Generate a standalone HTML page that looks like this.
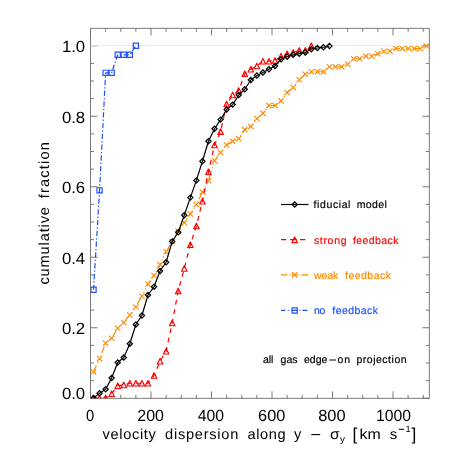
<!DOCTYPE html>
<html><head><meta charset="utf-8"><title>plot</title>
<style>
html,body{margin:0;padding:0;background:#fff;}
body{width:456px;height:456px;overflow:hidden;}
svg{display:block;opacity:0.999;will-change:transform;}
svg text{font-family:"Liberation Sans",sans-serif;text-rendering:geometricPrecision;}
</style></head><body>
<svg width="456" height="456" viewBox="0 0 456 456">
<defs><clipPath id="c"><rect x="90.5" y="28.35" width="338.85" height="370.0"/></clipPath></defs>
<rect width="456" height="456" fill="#fff"/>
<path d="M90.5 28.35H429.35V398.35H90.5ZM90.50 398.35v-7M90.50 28.35v7M105.62 398.35v-3.5M105.62 28.35v3.5M120.75 398.35v-3.5M120.75 28.35v3.5M135.88 398.35v-3.5M135.88 28.35v3.5M151.00 398.35v-7M151.00 28.35v7M166.12 398.35v-3.5M166.12 28.35v3.5M181.25 398.35v-3.5M181.25 28.35v3.5M196.38 398.35v-3.5M196.38 28.35v3.5M211.50 398.35v-7M211.50 28.35v7M226.62 398.35v-3.5M226.62 28.35v3.5M241.75 398.35v-3.5M241.75 28.35v3.5M256.88 398.35v-3.5M256.88 28.35v3.5M272.00 398.35v-7M272.00 28.35v7M287.12 398.35v-3.5M287.12 28.35v3.5M302.25 398.35v-3.5M302.25 28.35v3.5M317.38 398.35v-3.5M317.38 28.35v3.5M332.50 398.35v-7M332.50 28.35v7M347.62 398.35v-3.5M347.62 28.35v3.5M362.75 398.35v-3.5M362.75 28.35v3.5M377.88 398.35v-3.5M377.88 28.35v3.5M393.00 398.35v-7M393.00 28.35v7M408.12 398.35v-3.5M408.12 28.35v3.5M423.25 398.35v-3.5M423.25 28.35v3.5M90.5 398.25h7M429.35 398.25h-7M90.5 380.62h3.5M429.35 380.62h-3.5M90.5 363.00h3.5M429.35 363.00h-3.5M90.5 345.38h3.5M429.35 345.38h-3.5M90.5 327.75h7M429.35 327.75h-7M90.5 310.12h3.5M429.35 310.12h-3.5M90.5 292.50h3.5M429.35 292.50h-3.5M90.5 274.88h3.5M429.35 274.88h-3.5M90.5 257.25h7M429.35 257.25h-7M90.5 239.62h3.5M429.35 239.62h-3.5M90.5 222.00h3.5M429.35 222.00h-3.5M90.5 204.37h3.5M429.35 204.37h-3.5M90.5 186.75h7M429.35 186.75h-7M90.5 169.12h3.5M429.35 169.12h-3.5M90.5 151.50h3.5M429.35 151.50h-3.5M90.5 133.88h3.5M429.35 133.88h-3.5M90.5 116.25h7M429.35 116.25h-7M90.5 98.62h3.5M429.35 98.62h-3.5M90.5 81.00h3.5M429.35 81.00h-3.5M90.5 63.38h3.5M429.35 63.38h-3.5M90.5 45.75h7M429.35 45.75h-7" fill="none" stroke="#6c6c6c" stroke-width="0.9"/>
<line x1="90.50" y1="45.75" x2="393.00" y2="45.75" stroke="#e6e6e6" stroke-width="1"/>
<g clip-path="url(#c)"><polyline points="93.53,289.79 99.58,190.37 105.62,72.87 111.67,72.87 117.72,54.79 123.78,54.79 129.82,54.79 135.88,45.75" fill="none" stroke="#1e50ff" stroke-width="1.2" stroke-dasharray="5.3 2.1 1.3 2.1" stroke-dashoffset="0.20" stroke-linejoin="round"/><path d="M90.93 287.19H96.12V292.39H90.93Z" fill="none" stroke="#1e50ff" stroke-width="1.2"/><path d="M96.98 187.77H102.17V192.97H96.98Z" fill="none" stroke="#1e50ff" stroke-width="1.2"/><path d="M103.03 70.27H108.22V75.47H103.03Z" fill="none" stroke="#1e50ff" stroke-width="1.2"/><path d="M109.08 70.27H114.27V75.47H109.08Z" fill="none" stroke="#1e50ff" stroke-width="1.2"/><path d="M115.12 52.19H120.32V57.39H115.12Z" fill="none" stroke="#1e50ff" stroke-width="1.2"/><path d="M121.18 52.19H126.38V57.39H121.18Z" fill="none" stroke="#1e50ff" stroke-width="1.2"/><path d="M127.22 52.19H132.42V57.39H127.22Z" fill="none" stroke="#1e50ff" stroke-width="1.2"/><path d="M133.28 43.15H138.47V48.35H133.28Z" fill="none" stroke="#1e50ff" stroke-width="1.2"/><polyline points="93.53,371.75 99.58,358.75 105.62,343.25 111.67,338.25 117.72,328.25 123.78,322.50 129.82,315.00 135.88,307.00 141.93,296.25 147.97,284.00 154.03,275.50 160.07,264.75 166.12,251.75 172.18,241.50 178.22,231.50 184.27,222.75 190.32,214.00 196.38,204.50 202.43,192.00 208.47,180.75 214.52,160.75 220.57,152.50 226.62,145.00 232.67,141.25 238.72,138.60 244.78,129.60 250.82,126.50 256.88,118.60 262.92,113.40 268.98,105.50 275.02,105.50 281.07,100.90 287.12,92.50 293.17,87.50 299.23,79.75 305.27,74.25 311.32,71.75 317.38,71.75 323.42,71.75 329.48,66.75 335.52,66.75 341.57,66.75 347.62,64.25 353.68,58.75 359.72,58.75 365.77,56.25 371.82,56.25 377.88,53.75 383.93,51.25 389.97,51.25 396.02,48.50 402.07,48.50 408.12,48.50 414.18,48.50 420.22,48.50 426.27,46.00" fill="none" stroke="#ff8c00" stroke-width="1.2" stroke-dasharray="6.8 2.5 1.2 2.5 1.2 2.5 1.2 2.5" stroke-dashoffset="0.00" stroke-linejoin="round"/><path d="M90.83 369.05L96.23 374.45M90.83 374.45L96.23 369.05" fill="none" stroke="#ff8c00" stroke-width="1.2"/><path d="M96.88 356.05L102.28 361.45M96.88 361.45L102.28 356.05" fill="none" stroke="#ff8c00" stroke-width="1.2"/><path d="M102.92 340.55L108.33 345.95M102.92 345.95L108.33 340.55" fill="none" stroke="#ff8c00" stroke-width="1.2"/><path d="M108.97 335.55L114.38 340.95M108.97 340.95L114.38 335.55" fill="none" stroke="#ff8c00" stroke-width="1.2"/><path d="M115.02 325.55L120.42 330.95M115.02 330.95L120.42 325.55" fill="none" stroke="#ff8c00" stroke-width="1.2"/><path d="M121.08 319.80L126.48 325.20M121.08 325.20L126.48 319.80" fill="none" stroke="#ff8c00" stroke-width="1.2"/><path d="M127.12 312.30L132.52 317.70M127.12 317.70L132.52 312.30" fill="none" stroke="#ff8c00" stroke-width="1.2"/><path d="M133.18 304.30L138.57 309.70M133.18 309.70L138.57 304.30" fill="none" stroke="#ff8c00" stroke-width="1.2"/><path d="M139.23 293.55L144.62 298.95M139.23 298.95L144.62 293.55" fill="none" stroke="#ff8c00" stroke-width="1.2"/><path d="M145.28 281.30L150.67 286.70M145.28 286.70L150.67 281.30" fill="none" stroke="#ff8c00" stroke-width="1.2"/><path d="M151.33 272.80L156.72 278.20M151.33 278.20L156.72 272.80" fill="none" stroke="#ff8c00" stroke-width="1.2"/><path d="M157.38 262.05L162.77 267.45M157.38 267.45L162.77 262.05" fill="none" stroke="#ff8c00" stroke-width="1.2"/><path d="M163.43 249.05L168.82 254.45M163.43 254.45L168.82 249.05" fill="none" stroke="#ff8c00" stroke-width="1.2"/><path d="M169.48 238.80L174.88 244.20M169.48 244.20L174.88 238.80" fill="none" stroke="#ff8c00" stroke-width="1.2"/><path d="M175.53 228.80L180.92 234.20M175.53 234.20L180.92 228.80" fill="none" stroke="#ff8c00" stroke-width="1.2"/><path d="M181.57 220.05L186.97 225.45M181.57 225.45L186.97 220.05" fill="none" stroke="#ff8c00" stroke-width="1.2"/><path d="M187.62 211.30L193.02 216.70M187.62 216.70L193.02 211.30" fill="none" stroke="#ff8c00" stroke-width="1.2"/><path d="M193.68 201.80L199.07 207.20M193.68 207.20L199.07 201.80" fill="none" stroke="#ff8c00" stroke-width="1.2"/><path d="M199.73 189.30L205.12 194.70M199.73 194.70L205.12 189.30" fill="none" stroke="#ff8c00" stroke-width="1.2"/><path d="M205.78 178.05L211.17 183.45M205.78 183.45L211.17 178.05" fill="none" stroke="#ff8c00" stroke-width="1.2"/><path d="M211.82 158.05L217.22 163.45M211.82 163.45L217.22 158.05" fill="none" stroke="#ff8c00" stroke-width="1.2"/><path d="M217.88 149.80L223.27 155.20M217.88 155.20L223.27 149.80" fill="none" stroke="#ff8c00" stroke-width="1.2"/><path d="M223.93 142.30L229.32 147.70M223.93 147.70L229.32 142.30" fill="none" stroke="#ff8c00" stroke-width="1.2"/><path d="M229.97 138.55L235.37 143.95M229.97 143.95L235.37 138.55" fill="none" stroke="#ff8c00" stroke-width="1.2"/><path d="M236.03 135.90L241.42 141.30M236.03 141.30L241.42 135.90" fill="none" stroke="#ff8c00" stroke-width="1.2"/><path d="M242.08 126.90L247.47 132.30M242.08 132.30L247.47 126.90" fill="none" stroke="#ff8c00" stroke-width="1.2"/><path d="M248.12 123.80L253.52 129.20M248.12 129.20L253.52 123.80" fill="none" stroke="#ff8c00" stroke-width="1.2"/><path d="M254.18 115.90L259.57 121.30M254.18 121.30L259.57 115.90" fill="none" stroke="#ff8c00" stroke-width="1.2"/><path d="M260.22 110.70L265.62 116.10M260.22 116.10L265.62 110.70" fill="none" stroke="#ff8c00" stroke-width="1.2"/><path d="M266.28 102.80L271.68 108.20M266.28 108.20L271.68 102.80" fill="none" stroke="#ff8c00" stroke-width="1.2"/><path d="M272.32 102.80L277.72 108.20M272.32 108.20L277.72 102.80" fill="none" stroke="#ff8c00" stroke-width="1.2"/><path d="M278.38 98.20L283.77 103.60M278.38 103.60L283.77 98.20" fill="none" stroke="#ff8c00" stroke-width="1.2"/><path d="M284.43 89.80L289.82 95.20M284.43 95.20L289.82 89.80" fill="none" stroke="#ff8c00" stroke-width="1.2"/><path d="M290.47 84.80L295.87 90.20M290.47 90.20L295.87 84.80" fill="none" stroke="#ff8c00" stroke-width="1.2"/><path d="M296.53 77.05L301.93 82.45M296.53 82.45L301.93 77.05" fill="none" stroke="#ff8c00" stroke-width="1.2"/><path d="M302.57 71.55L307.97 76.95M302.57 76.95L307.97 71.55" fill="none" stroke="#ff8c00" stroke-width="1.2"/><path d="M308.62 69.05L314.02 74.45M308.62 74.45L314.02 69.05" fill="none" stroke="#ff8c00" stroke-width="1.2"/><path d="M314.68 69.05L320.07 74.45M314.68 74.45L320.07 69.05" fill="none" stroke="#ff8c00" stroke-width="1.2"/><path d="M320.72 69.05L326.12 74.45M320.72 74.45L326.12 69.05" fill="none" stroke="#ff8c00" stroke-width="1.2"/><path d="M326.78 64.05L332.18 69.45M326.78 69.45L332.18 64.05" fill="none" stroke="#ff8c00" stroke-width="1.2"/><path d="M332.82 64.05L338.22 69.45M332.82 69.45L338.22 64.05" fill="none" stroke="#ff8c00" stroke-width="1.2"/><path d="M338.88 64.05L344.27 69.45M338.88 69.45L344.27 64.05" fill="none" stroke="#ff8c00" stroke-width="1.2"/><path d="M344.93 61.55L350.32 66.95M344.93 66.95L350.32 61.55" fill="none" stroke="#ff8c00" stroke-width="1.2"/><path d="M350.98 56.05L356.38 61.45M350.98 61.45L356.38 56.05" fill="none" stroke="#ff8c00" stroke-width="1.2"/><path d="M357.02 56.05L362.42 61.45M357.02 61.45L362.42 56.05" fill="none" stroke="#ff8c00" stroke-width="1.2"/><path d="M363.07 53.55L368.47 58.95M363.07 58.95L368.47 53.55" fill="none" stroke="#ff8c00" stroke-width="1.2"/><path d="M369.12 53.55L374.52 58.95M369.12 58.95L374.52 53.55" fill="none" stroke="#ff8c00" stroke-width="1.2"/><path d="M375.18 51.05L380.57 56.45M375.18 56.45L380.57 51.05" fill="none" stroke="#ff8c00" stroke-width="1.2"/><path d="M381.23 48.55L386.62 53.95M381.23 53.95L386.62 48.55" fill="none" stroke="#ff8c00" stroke-width="1.2"/><path d="M387.27 48.55L392.67 53.95M387.27 53.95L392.67 48.55" fill="none" stroke="#ff8c00" stroke-width="1.2"/><path d="M393.32 45.80L398.72 51.20M393.32 51.20L398.72 45.80" fill="none" stroke="#ff8c00" stroke-width="1.2"/><path d="M399.38 45.80L404.77 51.20M399.38 51.20L404.77 45.80" fill="none" stroke="#ff8c00" stroke-width="1.2"/><path d="M405.43 45.80L410.82 51.20M405.43 51.20L410.82 45.80" fill="none" stroke="#ff8c00" stroke-width="1.2"/><path d="M411.48 45.80L416.88 51.20M411.48 51.20L416.88 45.80" fill="none" stroke="#ff8c00" stroke-width="1.2"/><path d="M417.52 45.80L422.92 51.20M417.52 51.20L422.92 45.80" fill="none" stroke="#ff8c00" stroke-width="1.2"/><path d="M423.57 43.30L428.97 48.70M423.57 48.70L428.97 43.30" fill="none" stroke="#ff8c00" stroke-width="1.2"/><polyline points="93.53,398.25 99.58,398.25 105.62,398.00 111.67,393.75 117.72,385.75 123.78,385.00 129.82,383.25 135.88,383.25 141.93,383.25 147.97,383.25 154.03,375.50 160.07,361.25 166.12,351.25 172.18,323.00 178.22,291.00 184.27,268.50 190.32,244.75 196.38,226.00 202.43,201.25 208.47,171.75 214.52,145.00 220.57,131.60 226.62,104.00 232.67,95.00 238.72,90.50 244.78,73.75 250.82,69.25 256.88,66.00 262.92,61.25 268.98,61.25 275.02,60.50 281.07,56.25 287.12,53.75 293.17,52.50 299.23,50.50 305.27,50.50 311.32,45.75" fill="none" stroke="#ff0000" stroke-width="1.2" stroke-dasharray="4.9 4.73" stroke-dashoffset="9.52" stroke-linejoin="round"/><path d="M90.78 401.00L93.53 395.50L96.28 401.00Z" fill="none" stroke="#ff0000" stroke-width="1.2" stroke-linejoin="round"/><path d="M96.83 401.00L99.58 395.50L102.33 401.00Z" fill="none" stroke="#ff0000" stroke-width="1.2" stroke-linejoin="round"/><path d="M102.88 400.75L105.62 395.25L108.38 400.75Z" fill="none" stroke="#ff0000" stroke-width="1.2" stroke-linejoin="round"/><path d="M108.92 396.50L111.67 391.00L114.42 396.50Z" fill="none" stroke="#ff0000" stroke-width="1.2" stroke-linejoin="round"/><path d="M114.97 388.50L117.72 383.00L120.47 388.50Z" fill="none" stroke="#ff0000" stroke-width="1.2" stroke-linejoin="round"/><path d="M121.03 387.75L123.78 382.25L126.53 387.75Z" fill="none" stroke="#ff0000" stroke-width="1.2" stroke-linejoin="round"/><path d="M127.07 386.00L129.82 380.50L132.57 386.00Z" fill="none" stroke="#ff0000" stroke-width="1.2" stroke-linejoin="round"/><path d="M133.12 386.00L135.88 380.50L138.62 386.00Z" fill="none" stroke="#ff0000" stroke-width="1.2" stroke-linejoin="round"/><path d="M139.18 386.00L141.93 380.50L144.68 386.00Z" fill="none" stroke="#ff0000" stroke-width="1.2" stroke-linejoin="round"/><path d="M145.22 386.00L147.97 380.50L150.72 386.00Z" fill="none" stroke="#ff0000" stroke-width="1.2" stroke-linejoin="round"/><path d="M151.28 378.25L154.03 372.75L156.78 378.25Z" fill="none" stroke="#ff0000" stroke-width="1.2" stroke-linejoin="round"/><path d="M157.32 364.00L160.07 358.50L162.82 364.00Z" fill="none" stroke="#ff0000" stroke-width="1.2" stroke-linejoin="round"/><path d="M163.38 354.00L166.12 348.50L168.88 354.00Z" fill="none" stroke="#ff0000" stroke-width="1.2" stroke-linejoin="round"/><path d="M169.43 325.75L172.18 320.25L174.93 325.75Z" fill="none" stroke="#ff0000" stroke-width="1.2" stroke-linejoin="round"/><path d="M175.47 293.75L178.22 288.25L180.97 293.75Z" fill="none" stroke="#ff0000" stroke-width="1.2" stroke-linejoin="round"/><path d="M181.52 271.25L184.27 265.75L187.02 271.25Z" fill="none" stroke="#ff0000" stroke-width="1.2" stroke-linejoin="round"/><path d="M187.57 247.50L190.32 242.00L193.07 247.50Z" fill="none" stroke="#ff0000" stroke-width="1.2" stroke-linejoin="round"/><path d="M193.62 228.75L196.38 223.25L199.12 228.75Z" fill="none" stroke="#ff0000" stroke-width="1.2" stroke-linejoin="round"/><path d="M199.68 204.00L202.43 198.50L205.18 204.00Z" fill="none" stroke="#ff0000" stroke-width="1.2" stroke-linejoin="round"/><path d="M205.72 174.50L208.47 169.00L211.22 174.50Z" fill="none" stroke="#ff0000" stroke-width="1.2" stroke-linejoin="round"/><path d="M211.77 147.75L214.52 142.25L217.27 147.75Z" fill="none" stroke="#ff0000" stroke-width="1.2" stroke-linejoin="round"/><path d="M217.82 134.35L220.57 128.85L223.32 134.35Z" fill="none" stroke="#ff0000" stroke-width="1.2" stroke-linejoin="round"/><path d="M223.88 106.75L226.62 101.25L229.38 106.75Z" fill="none" stroke="#ff0000" stroke-width="1.2" stroke-linejoin="round"/><path d="M229.92 97.75L232.67 92.25L235.42 97.75Z" fill="none" stroke="#ff0000" stroke-width="1.2" stroke-linejoin="round"/><path d="M235.97 93.25L238.72 87.75L241.47 93.25Z" fill="none" stroke="#ff0000" stroke-width="1.2" stroke-linejoin="round"/><path d="M242.03 76.50L244.78 71.00L247.53 76.50Z" fill="none" stroke="#ff0000" stroke-width="1.2" stroke-linejoin="round"/><path d="M248.07 72.00L250.82 66.50L253.57 72.00Z" fill="none" stroke="#ff0000" stroke-width="1.2" stroke-linejoin="round"/><path d="M254.12 68.75L256.88 63.25L259.62 68.75Z" fill="none" stroke="#ff0000" stroke-width="1.2" stroke-linejoin="round"/><path d="M260.17 64.00L262.92 58.50L265.67 64.00Z" fill="none" stroke="#ff0000" stroke-width="1.2" stroke-linejoin="round"/><path d="M266.23 64.00L268.98 58.50L271.73 64.00Z" fill="none" stroke="#ff0000" stroke-width="1.2" stroke-linejoin="round"/><path d="M272.27 63.25L275.02 57.75L277.77 63.25Z" fill="none" stroke="#ff0000" stroke-width="1.2" stroke-linejoin="round"/><path d="M278.32 59.00L281.07 53.50L283.82 59.00Z" fill="none" stroke="#ff0000" stroke-width="1.2" stroke-linejoin="round"/><path d="M284.38 56.50L287.12 51.00L289.88 56.50Z" fill="none" stroke="#ff0000" stroke-width="1.2" stroke-linejoin="round"/><path d="M290.42 55.25L293.17 49.75L295.92 55.25Z" fill="none" stroke="#ff0000" stroke-width="1.2" stroke-linejoin="round"/><path d="M296.48 53.25L299.23 47.75L301.98 53.25Z" fill="none" stroke="#ff0000" stroke-width="1.2" stroke-linejoin="round"/><path d="M302.52 53.25L305.27 47.75L308.02 53.25Z" fill="none" stroke="#ff0000" stroke-width="1.2" stroke-linejoin="round"/><path d="M308.57 48.50L311.32 43.00L314.07 48.50Z" fill="none" stroke="#ff0000" stroke-width="1.2" stroke-linejoin="round"/><polyline points="93.53,398.00 99.58,393.25 105.62,389.25 111.67,378.00 117.72,362.50 123.78,357.50 129.82,343.75 135.88,324.50 141.93,315.50 147.97,295.00 154.03,286.75 160.07,271.00 166.12,262.25 172.18,241.50 178.22,232.25 184.27,215.25 190.32,197.60 196.38,180.40 202.43,161.25 208.47,141.25 214.52,128.75 220.57,119.60 226.62,109.60 232.67,104.60 238.72,95.00 244.78,89.25 250.82,80.00 256.88,75.50 262.92,72.50 268.98,69.25 275.02,66.00 281.07,59.25 287.12,56.75 293.17,54.75 299.23,53.75 305.27,52.50 311.32,49.25 317.38,48.00 323.42,47.25 329.48,46.00" fill="none" stroke="#000" stroke-width="1.2" stroke-linejoin="round"/><path d="M90.93 398.00L93.53 395.40L96.12 398.00L93.53 400.60Z" fill="none" stroke="#000" stroke-width="1.2"/><path d="M96.98 393.25L99.58 390.65L102.17 393.25L99.58 395.85Z" fill="none" stroke="#000" stroke-width="1.2"/><path d="M103.03 389.25L105.62 386.65L108.22 389.25L105.62 391.85Z" fill="none" stroke="#000" stroke-width="1.2"/><path d="M109.08 378.00L111.67 375.40L114.27 378.00L111.67 380.60Z" fill="none" stroke="#000" stroke-width="1.2"/><path d="M115.12 362.50L117.72 359.90L120.32 362.50L117.72 365.10Z" fill="none" stroke="#000" stroke-width="1.2"/><path d="M121.18 357.50L123.78 354.90L126.38 357.50L123.78 360.10Z" fill="none" stroke="#000" stroke-width="1.2"/><path d="M127.22 343.75L129.82 341.15L132.42 343.75L129.82 346.35Z" fill="none" stroke="#000" stroke-width="1.2"/><path d="M133.28 324.50L135.88 321.90L138.47 324.50L135.88 327.10Z" fill="none" stroke="#000" stroke-width="1.2"/><path d="M139.33 315.50L141.93 312.90L144.53 315.50L141.93 318.10Z" fill="none" stroke="#000" stroke-width="1.2"/><path d="M145.38 295.00L147.97 292.40L150.57 295.00L147.97 297.60Z" fill="none" stroke="#000" stroke-width="1.2"/><path d="M151.43 286.75L154.03 284.15L156.62 286.75L154.03 289.35Z" fill="none" stroke="#000" stroke-width="1.2"/><path d="M157.47 271.00L160.07 268.40L162.67 271.00L160.07 273.60Z" fill="none" stroke="#000" stroke-width="1.2"/><path d="M163.53 262.25L166.12 259.65L168.72 262.25L166.12 264.85Z" fill="none" stroke="#000" stroke-width="1.2"/><path d="M169.58 241.50L172.18 238.90L174.78 241.50L172.18 244.10Z" fill="none" stroke="#000" stroke-width="1.2"/><path d="M175.62 232.25L178.22 229.65L180.82 232.25L178.22 234.85Z" fill="none" stroke="#000" stroke-width="1.2"/><path d="M181.67 215.25L184.27 212.65L186.87 215.25L184.27 217.85Z" fill="none" stroke="#000" stroke-width="1.2"/><path d="M187.72 197.60L190.32 195.00L192.92 197.60L190.32 200.20Z" fill="none" stroke="#000" stroke-width="1.2"/><path d="M193.78 180.40L196.38 177.80L198.97 180.40L196.38 183.00Z" fill="none" stroke="#000" stroke-width="1.2"/><path d="M199.83 161.25L202.43 158.65L205.03 161.25L202.43 163.85Z" fill="none" stroke="#000" stroke-width="1.2"/><path d="M205.88 141.25L208.47 138.65L211.07 141.25L208.47 143.85Z" fill="none" stroke="#000" stroke-width="1.2"/><path d="M211.92 128.75L214.52 126.15L217.12 128.75L214.52 131.35Z" fill="none" stroke="#000" stroke-width="1.2"/><path d="M217.97 119.60L220.57 117.00L223.17 119.60L220.57 122.20Z" fill="none" stroke="#000" stroke-width="1.2"/><path d="M224.03 109.60L226.62 107.00L229.22 109.60L226.62 112.20Z" fill="none" stroke="#000" stroke-width="1.2"/><path d="M230.07 104.60L232.67 102.00L235.27 104.60L232.67 107.20Z" fill="none" stroke="#000" stroke-width="1.2"/><path d="M236.12 95.00L238.72 92.40L241.32 95.00L238.72 97.60Z" fill="none" stroke="#000" stroke-width="1.2"/><path d="M242.18 89.25L244.78 86.65L247.38 89.25L244.78 91.85Z" fill="none" stroke="#000" stroke-width="1.2"/><path d="M248.22 80.00L250.82 77.40L253.42 80.00L250.82 82.60Z" fill="none" stroke="#000" stroke-width="1.2"/><path d="M254.28 75.50L256.88 72.90L259.48 75.50L256.88 78.10Z" fill="none" stroke="#000" stroke-width="1.2"/><path d="M260.32 72.50L262.92 69.90L265.52 72.50L262.92 75.10Z" fill="none" stroke="#000" stroke-width="1.2"/><path d="M266.38 69.25L268.98 66.65L271.58 69.25L268.98 71.85Z" fill="none" stroke="#000" stroke-width="1.2"/><path d="M272.42 66.00L275.02 63.40L277.62 66.00L275.02 68.60Z" fill="none" stroke="#000" stroke-width="1.2"/><path d="M278.47 59.25L281.07 56.65L283.68 59.25L281.07 61.85Z" fill="none" stroke="#000" stroke-width="1.2"/><path d="M284.52 56.75L287.12 54.15L289.73 56.75L287.12 59.35Z" fill="none" stroke="#000" stroke-width="1.2"/><path d="M290.57 54.75L293.17 52.15L295.77 54.75L293.17 57.35Z" fill="none" stroke="#000" stroke-width="1.2"/><path d="M296.62 53.75L299.23 51.15L301.83 53.75L299.23 56.35Z" fill="none" stroke="#000" stroke-width="1.2"/><path d="M302.67 52.50L305.27 49.90L307.88 52.50L305.27 55.10Z" fill="none" stroke="#000" stroke-width="1.2"/><path d="M308.72 49.25L311.32 46.65L313.93 49.25L311.32 51.85Z" fill="none" stroke="#000" stroke-width="1.2"/><path d="M314.77 48.00L317.38 45.40L319.98 48.00L317.38 50.60Z" fill="none" stroke="#000" stroke-width="1.2"/><path d="M320.82 47.25L323.42 44.65L326.02 47.25L323.42 49.85Z" fill="none" stroke="#000" stroke-width="1.2"/><path d="M326.88 46.00L329.48 43.40L332.08 46.00L329.48 48.60Z" fill="none" stroke="#000" stroke-width="1.2"/></g>
<g>
<text x="86.00" y="420.80" font-size="16.2" fill="#000" textLength="8.20" lengthAdjust="spacingAndGlyphs">0</text>
<text x="137.30" y="420.80" font-size="16.2" fill="#000" textLength="26.70" lengthAdjust="spacingAndGlyphs">200</text>
<text x="197.80" y="420.80" font-size="16.2" fill="#000" textLength="26.30" lengthAdjust="spacingAndGlyphs">400</text>
<text x="258.10" y="420.80" font-size="16.2" fill="#000" textLength="27.20" lengthAdjust="spacingAndGlyphs">600</text>
<text x="318.20" y="420.80" font-size="16.2" fill="#000" textLength="27.40" lengthAdjust="spacingAndGlyphs">800</text>
<text x="376.00" y="420.80" font-size="16.2" fill="#000" textLength="35.00" lengthAdjust="spacingAndGlyphs">1000</text>
<text x="61.90" y="399.10" font-size="16.2" fill="#000" textLength="23.30" lengthAdjust="spacingAndGlyphs">0.0</text>
<text x="61.90" y="334.45" font-size="16.2" fill="#000" textLength="23.30" lengthAdjust="spacingAndGlyphs">0.2</text>
<text x="61.90" y="263.95" font-size="16.2" fill="#000" textLength="23.30" lengthAdjust="spacingAndGlyphs">0.4</text>
<text x="61.90" y="193.45" font-size="16.2" fill="#000" textLength="23.30" lengthAdjust="spacingAndGlyphs">0.6</text>
<text x="61.90" y="122.95" font-size="16.2" fill="#000" textLength="23.30" lengthAdjust="spacingAndGlyphs">0.8</text>
<text x="61.90" y="52.45" font-size="16.2" fill="#000" textLength="23.30" lengthAdjust="spacingAndGlyphs">1.0</text>
<text x="102.50" y="438.80" font-size="14.6" fill="#000" textLength="53.30" lengthAdjust="spacing">velocity</text><text x="165.10" y="438.80" font-size="14.6" fill="#000" textLength="73.20" lengthAdjust="spacing">dispersion</text><text x="247.40" y="438.80" font-size="14.6" fill="#000" textLength="38.20" lengthAdjust="spacing">along</text><text x="294.00" y="438.80" font-size="14.6" fill="#000" textLength="7.80" lengthAdjust="spacing">y</text>
<line x1="311.3" y1="434.6" x2="320.2" y2="434.6" stroke="#000" stroke-width="1.1"/>
<text x="330.10" y="438.80" font-size="14.6" fill="#000" textLength="9.70" lengthAdjust="spacingAndGlyphs">σ</text>
<text x="339.90" y="442.40" font-size="9.2" fill="#000" textLength="5.00" lengthAdjust="spacingAndGlyphs">y</text>
<text x="352.40" y="439.60" font-size="17.2" fill="#000">[</text>
<text x="359.60" y="438.80" font-size="14.6" fill="#000" textLength="21.20" lengthAdjust="spacingAndGlyphs">km</text>
<text x="389.70" y="438.80" font-size="14.6" fill="#000" textLength="7.50" lengthAdjust="spacingAndGlyphs">s</text>
<line x1="398.9" y1="429.3" x2="404.2" y2="429.3" stroke="#000" stroke-width="1"/>
<text x="405.40" y="432.30" font-size="9.2" fill="#000">1</text>
<text x="411.40" y="439.60" font-size="17.2" fill="#000">]</text>
<g transform="translate(48.95,0) rotate(-90)"><text x="-284.60" y="0.00" font-size="14.6" fill="#000" textLength="77.60" lengthAdjust="spacing">cumulative</text><text x="-198.30" y="0.00" font-size="14.6" fill="#000" textLength="56.20" lengthAdjust="spacing">fraction</text></g>
</g>
<line x1="281.0" y1="204.5" x2="308.5" y2="204.5" stroke="#000" stroke-width="1.2"/><path d="M292.10 204.50L294.70 201.90L297.30 204.50L294.70 207.10Z" fill="none" stroke="#000" stroke-width="1.2"/>
<text x="313.60" y="208.20" font-size="10.5" fill="#000" textLength="36.80" lengthAdjust="spacing" stroke="#000" stroke-width="0.18">fiducial</text><text x="356.70" y="208.20" font-size="10.5" fill="#000" textLength="30.20" lengthAdjust="spacing" stroke="#000" stroke-width="0.18">model</text>
<path d="M281 239.6h5.2M289.9 239.6h6.9M300 239.6h5.3" stroke="#ff0000" stroke-width="1.2"/><path d="M291.95 242.55L294.70 237.05L297.45 242.55Z" fill="none" stroke="#ff0000" stroke-width="1.2" stroke-linejoin="round"/>
<text x="313.90" y="243.50" font-size="10.5" fill="#ff0000" textLength="32.60" lengthAdjust="spacing" stroke="#ff0000" stroke-width="0.18">strong</text><text x="353.00" y="243.50" font-size="10.5" fill="#ff0000" textLength="45.40" lengthAdjust="spacing" stroke="#ff0000" stroke-width="0.18">feedback</text>
<path d="M281 274.8h6.5M289.6 274.8h1M291.8 274.8h6M298.8 274.8h1M301.7 274.8h7" stroke="#ff8c00" stroke-width="1.2"/><path d="M292.00 272.10L297.40 277.50M292.00 277.50L297.40 272.10" fill="none" stroke="#ff8c00" stroke-width="1.2"/>
<text x="313.90" y="278.70" font-size="10.5" fill="#ff8c00" textLength="24.30" lengthAdjust="spacing" stroke="#ff8c00" stroke-width="0.18">weak</text><text x="345.10" y="278.70" font-size="10.5" fill="#ff8c00" textLength="45.80" lengthAdjust="spacing" stroke="#ff8c00" stroke-width="0.18">feedback</text>
<path d="M281 310.3h4.2M287.8 310.3h1M291.5 310.3h6.4M299.6 310.3h1M302.5 310.3h5" stroke="#1e50ff" stroke-width="1.2"/><path d="M292.10 307.90H297.30V313.10H292.10Z" fill="none" stroke="#1e50ff" stroke-width="1.2"/>
<text x="313.90" y="313.80" font-size="10.5" fill="#1e50ff" textLength="11.50" lengthAdjust="spacing" stroke="#1e50ff" stroke-width="0.18">no</text><text x="332.30" y="313.80" font-size="10.5" fill="#1e50ff" textLength="45.70" lengthAdjust="spacing" stroke="#1e50ff" stroke-width="0.18">feedback</text>
<text x="262.90" y="363.40" font-size="10.5" fill="#000" textLength="10.50" lengthAdjust="spacing" stroke="#000" stroke-width="0.18">all</text><text x="280.50" y="363.40" font-size="10.5" fill="#000" textLength="17.00" lengthAdjust="spacing" stroke="#000" stroke-width="0.18">gas</text><text x="304.00" y="363.40" font-size="10.5" fill="#000" textLength="23.30" lengthAdjust="spacing" stroke="#000" stroke-width="0.18">edge</text><text x="337.60" y="363.40" font-size="10.5" fill="#000" textLength="12.40" lengthAdjust="spacing" stroke="#000" stroke-width="0.18">on</text><text x="356.40" y="363.40" font-size="10.5" fill="#000" textLength="50.20" lengthAdjust="spacing" stroke="#000" stroke-width="0.18">projection</text>
<line x1="329.4" y1="360.0" x2="335.9" y2="360.0" stroke="#000" stroke-width="1"/>
</svg>
</body></html>
